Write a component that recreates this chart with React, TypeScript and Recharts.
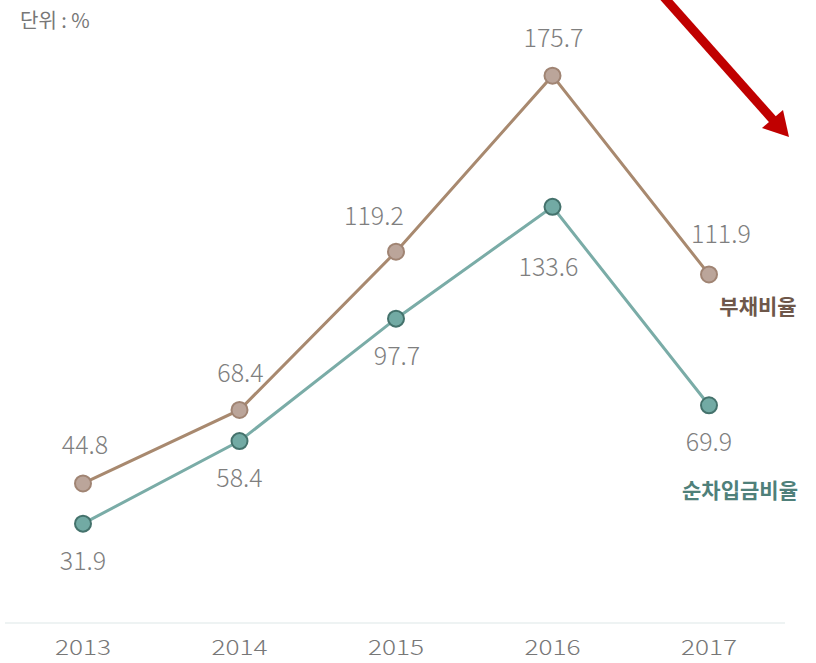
import React from 'react';
import { LineChart, Line, XAxis, YAxis, LabelList } from 'recharts';

const years = ['2013', '2014', '2015', '2016', '2017'];
const debtRatio = [44.8, 68.4, 119.2, 175.7, 111.9];
const netBorrowRatio = [31.9, 58.4, 97.7, 133.6, 69.9];

const data = years.map((year, i) => ({
    year,
    debt: debtRatio[i],
    net: netBorrowRatio[i],
}));

const FONT = '"Noto Sans CJK KR", "Noto Sans", sans-serif';

// label nudges so the numbers sit where the original put them
const debtOffsets = [
    { dx: 2, dy: -40 },
    { dx: 1, dy: -39 },
    { dx: -22, dy: -38 },
    { dx: 1, dy: -40 },
    { dx: 12, dy: -42 },
];
const netOffsets = [
    { dx: 0, dy: 35 },
    { dx: 0, dy: 35 },
    { dx: 1, dy: 35 },
    { dx: -4, dy: 58 },
    { dx: 0, dy: 35 },
];

const makeLabel = (offsets: { dx: number; dy: number }[]) => (props: any) => {
    const { x, y, value, index } = props;
    const o = offsets[index] || { dx: 0, dy: 0 };
    return (
        <text
            x={x + o.dx}
            y={y + o.dy}
            textAnchor="middle"
            dominantBaseline="central"
            fill="#7f7f7f"
            fontSize={25}
            fontWeight={300}
            fontFamily={FONT}
        >
            {value}
        </text>
    );
};

const YearTick = (props: any) => {
    const { x, y, payload } = props;
    return (
        <text
            transform={`translate(${x},${y}) scale(1.25,1)`}
            textAnchor="middle"
            dominantBaseline="central"
            fill="#777"
            fontSize={21}
            fontWeight={300}
            fontFamily={FONT}
        >
            {payload.value}
        </text>
    );
};

const App: React.FC = () => {
    return (
        <div style={{ position: 'absolute', left: 0, top: 0, width: 816, height: 663, background: '#fff' }}>
            <div
                style={{
                    position: 'absolute',
                    left: 20,
                    top: 5,
                    fontFamily: FONT,
                    fontSize: 20,
                    color: '#777',
                }}
            >
                단위 : %
            </div>
            <LineChart
                width={816}
                height={663}
                data={data}
                margin={{ top: 0, right: 31, left: 5, bottom: 0 }}
            >
                <XAxis
                    dataKey="year"
                    height={40}
                    padding={{ left: 78, right: 76 }}
                    axisLine={{ stroke: '#eef3f3', strokeWidth: 2 }}
                    tickLine={false}
                    tick={<YearTick />}
                    tickMargin={0}
                    tickSize={23}
                />
                <YAxis hide domain={[0, 200]} />
                <Line
                    dataKey="debt"
                    stroke="#a8896f"
                    strokeWidth={3}
                    dot={{ r: 8, fill: '#bba59a', stroke: '#a08473', strokeWidth: 2 }}
                    isAnimationActive={false}
                >
                    <LabelList dataKey="debt" content={makeLabel(debtOffsets)} />
                </Line>
                <Line
                    dataKey="net"
                    stroke="#7aaca7"
                    strokeWidth={3}
                    dot={{ r: 8, fill: '#72aaa4', stroke: '#44726c', strokeWidth: 2 }}
                    isAnimationActive={false}
                >
                    <LabelList dataKey="net" content={makeLabel(netOffsets)} />
                </Line>
                <text x={758} y={305} textAnchor="middle" dominantBaseline="central" fill="#6e574a" fontSize={21} fontWeight={700} fontFamily={FONT}>
                    부채비율
                </text>
                <text x={740} y={489} textAnchor="middle" dominantBaseline="central" fill="#4f807a" fontSize={21} fontWeight={700} fontFamily={FONT}>
                    순차입금비율
                </text>
            </LineChart>
            <svg width={816} height={663} style={{ position: 'absolute', left: 0, top: 0, pointerEvents: 'none' }}>
                <line x1={662} y1={-5} x2={774} y2={121} stroke="#c00000" strokeWidth={9} />
                <polygon points="789,137 762,128 783,110" fill="#c00000" />
            </svg>
        </div>
    );
};

export default App;
